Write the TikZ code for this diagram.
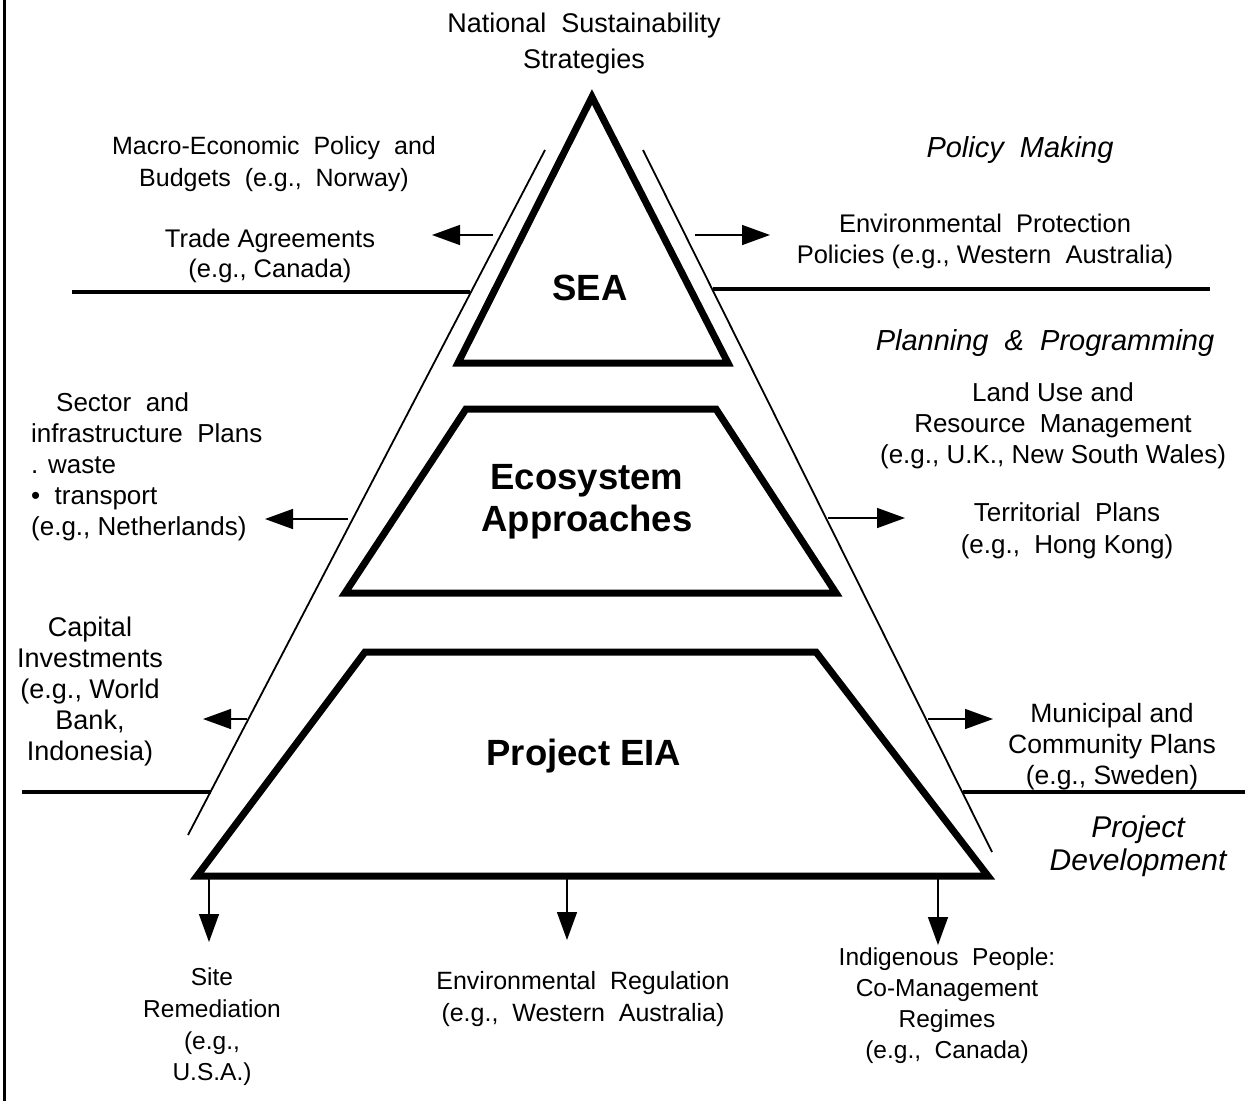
\documentclass[tikz,border=0pt]{standalone}
\usepackage{fontspec}
\setmainfont{Liberation Sans}
\usetikzlibrary{arrows.meta}
\newcommand{\fs}[2]{\fontsize{#1}{#2}\selectfont}
\begin{document}
\begin{tikzpicture}[x=1pt,y=-1pt,
  lbl/.style={font=\fs{25}{31}, align=center, inner sep=0pt},
  ital/.style={font=\fs{29}{33}\itshape, align=center, inner sep=0pt},
  big/.style={font=\fs{36.5}{42}\bfseries, align=center, inner sep=0pt},
  layer/.style={line width=7pt, line join=miter},
  thinline/.style={line width=1.8pt},
  divider/.style={line width=4pt},
  arr/.style={line width=1.5pt, -{Triangle[length=28pt,width=20pt]}},
]
\useasboundingbox (0,0) rectangle (1251,1101);
% left border
\draw[line width=3pt] (4,0) -- (4,1101);

% outer thin pyramid
\coordinate (tlTop) at (545,150);
\coordinate (tlBot) at (188,835);
\coordinate (trTop) at (643,150);
\coordinate (trBot) at (992,852);
\draw[thinline] (tlTop) -- (tlBot);
\draw[thinline] (trTop) -- (trBot);

% dividers
\coordinate (d1a) at (72,292);
\coordinate (d1b) at (470,292);
\coordinate (d1c) at (713,289);
\coordinate (d1d) at (1210,289);
\coordinate (d2a) at (22,792);
\coordinate (d2b) at (211,792);
\coordinate (d2c) at (963,792);
\coordinate (d2d) at (1245,792);
\draw[divider] (d1a) -- (d1b);
\draw[divider] (d1c) -- (d1d);
\draw[divider] (d2a) -- (d2b);
\draw[divider] (d2c) -- (d2d);

% layers
\draw[layer] (592,97) -- (728,363) -- (458,363) -- cycle;
\draw[layer] (466,409) -- (716,409) -- (836,593) -- (345,593) -- cycle;
\draw[layer] (365,652) -- (816,652) -- (988,876) -- (197,876) -- cycle;

% layer labels
\node[big] (sea) at (590,288) {SEA};
\node[big] (eco) at (587,502) {Ecosystem\\Approaches};
\node[big] (eia) at (584,756) {Project EIA};

% texts
\node[lbl, font=\fs{27}{36}] (nss) at (584,44) {National\ \ Sustainability\\Strategies};
\node[lbl, font=\fs{25}{32}] (macro) at (274,164) {Macro-Economic\ \ Policy\ \ and\\Budgets\ \ (e.g.,\ \ Norway)};
\node[lbl, font=\fs{25.5}{30}] (trade) at (270,256) {Trade Agreements\\(e.g., Canada)};
\node[ital] (policy) at (1020,150) {Policy\ \ Making};
\node[lbl, font=\fs{25.5}{31}] (envprot) at (985,241) {Environmental\ \ Protection\\Policies (e.g., Western\ \ Australia)};
\node[ital] (planning) at (1045,343) {Planning\ \ \&\ \ Programming};
\node[lbl, font=\fs{26}{31}] (landuse) at (1053,426) {Land Use and\\Resource\ \ Management\\(e.g., U.K., New South Wales)};
\node[lbl, font=\fs{26}{32}] (territorial) at (1067,531) {Territorial\ \ Plans\\(e.g.,\ \ Hong Kong)};
\node[lbl, font=\fs{26}{31}, align=left, anchor=west] (sector) at (31,467) {\hspace*{25pt}Sector\ \ and\\infrastructure\ \ Plans\\. waste\\•\ \ transport\\(e.g., Netherlands)};
\node[lbl, font=\fs{27}{31}] (capital) at (90,692) {Capital\\Investments\\(e.g., World\\Bank,\\Indonesia)};
\node[lbl, font=\fs{26.5}{31}] (municipal) at (1112,747) {Municipal and\\Community Plans\\(e.g., Sweden)};
\node[ital, font=\fs{30}{33}\itshape] (projdev) at (1138,846) {Project\\Development};
\node[lbl, font=\fs{24.5}{31.7}] (site) at (212,1027) {Site\\Remediation\\(e.g.,\\U.S.A.)};
\node[lbl, font=\fs{25}{32}] (envreg) at (583,999) {Environmental\ \ Regulation\\(e.g.,\ \ Western\ \ Australia)};
\node[lbl, font=\fs{24.5}{31}] (indig) at (947,1006) {Indigenous\ \ People:\\Co-Management\\Regimes\\(e.g.,\ \ Canada)};

% arrows
\coordinate (a1s) at (493,235); \coordinate (a1e) at (432,235);
\coordinate (a2s) at (695,235); \coordinate (a2e) at (770,235);
\coordinate (a3s) at (348,519); \coordinate (a3e) at (265,519);
\coordinate (a4s) at (828,518); \coordinate (a4e) at (905,518);
\coordinate (a5s) at (247,719); \coordinate (a5e) at (203,719);
\coordinate (a6s) at (928,719); \coordinate (a6e) at (993,719);
\coordinate (b1s) at (209,879); \coordinate (b1e) at (209,942);
\coordinate (b2s) at (567,879); \coordinate (b2e) at (567,940);
\coordinate (b3s) at (938,879); \coordinate (b3e) at (938,945);
\foreach \s/\e in {a1s/a1e,a2s/a2e,a3s/a3e,a4s/a4e,a5s/a5e,a6s/a6e,b1s/b1e,b2s/b2e,b3s/b3e}
  \draw[arr] (\s) -- (\e);
\end{tikzpicture}
\end{document}
